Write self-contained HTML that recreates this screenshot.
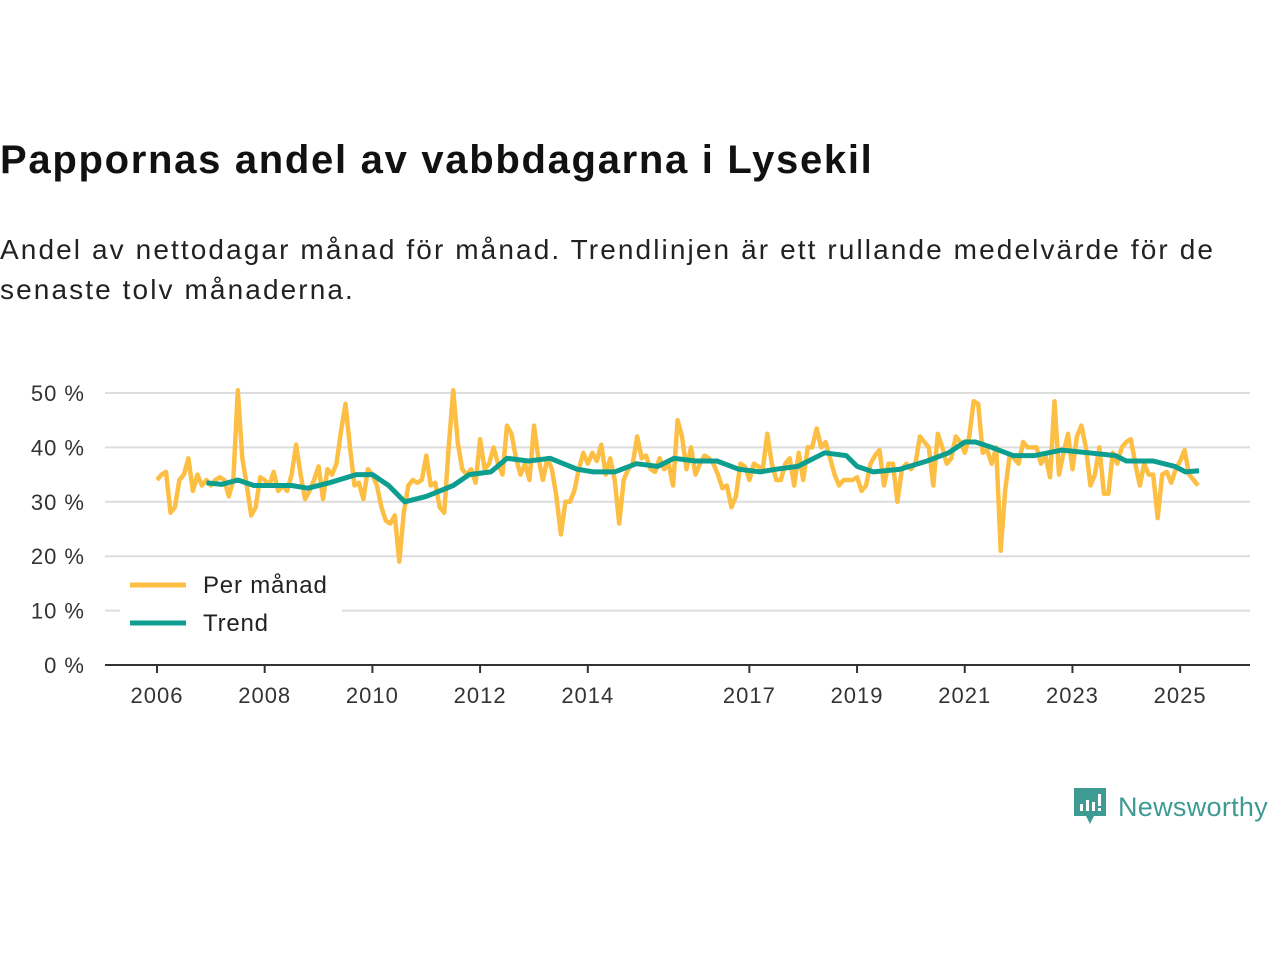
<!DOCTYPE html>
<html><head><meta charset="utf-8"><style>
body{margin:0;width:1280px;height:960px;background:#fff;font-family:"Liberation Sans","DejaVu Sans",sans-serif;overflow:hidden;position:relative}
h1{position:absolute;left:0;top:138px;margin:0;font-size:40px;font-weight:bold;color:#111;letter-spacing:1.7px;white-space:nowrap}
p{position:absolute;left:0;top:230px;margin:0;font-size:28px;line-height:40px;color:#222;width:1250px;letter-spacing:2.1px}
svg{position:absolute;left:0;top:0}
</style></head><body>
<h1>Pappornas andel av vabbdagarna i Lysekil</h1>
<p>Andel av nettodagar månad för månad. Trendlinjen är ett rullande medelvärde för de senaste tolv månaderna.</p>
<svg id="chart" width="1280" height="960"></svg>
<div style="position:absolute;left:1072px;top:786px;display:flex;align-items:center">
<svg width="36" height="42" style="position:static"><path d="M2 2h32v28H22l-4 8-4-8H2z" fill="#3d9b94"/><rect x="8" y="18" width="3" height="7" fill="#fff"/><rect x="14" y="14" width="3" height="11" fill="#fff"/><rect x="20" y="16" width="3" height="9" fill="#fff"/><rect x="26" y="8" width="3" height="12" fill="#fff"/><rect x="26" y="22" width="3" height="3" fill="#fff"/></svg>
<span style="font-size:27px;color:#3d9b94;margin-left:10px;letter-spacing:0.3px">Newsworthy</span></div>
<script>
const startYear=2006;
const monthly=[34,35,35.5,28,29,34,35,38,32,35,33,34,
33,34,34.5,34,31,34,50.5,38,33,27.5,29,34.5,
34,33,35.5,32,33,32,35,40.5,35,30.5,32,34,
36.5,30.5,36,35,37,43,48,40,33,33.5,30.5,36,
35,33,29,26.5,26,27.5,19,28,33,34,33.5,34,
38.5,33,33.5,29,28,40,50.5,41,36,35,36,33.5,
41.5,36,37,40,37,35,44,42.5,38,35,37,34,
44,38,34,38,36,31,24,30,30,32,36,39,
37,39,37.5,40.5,35,38,34,26,34,36,37,42,
38,38.5,36,35.5,38,36,37,33,45,42,36,40,
35,37,38.5,38,37,35,32.5,33,29,31,37,36.5,
34,37,36.5,36,42.5,37,34,34,37,38,33,39,
34,40,40,43.5,40,41,38,35,33,34,34,34,
34.5,32,33,37,38.5,39.5,33,37,37,30,36,37,
36,37,42,41,40,33,42.5,40,37,38,42,41,
39,42,48.5,48,39,39.5,37,40,21,32,38.5,38,
37,41,40,40,40,37,38.5,34.5,48.5,35,39,42.5,
36,42,44,40,33,35,40,31.5,31.5,39,37,40,
41,41.5,37,33,37,35,35,27,35,35.5,33.5,36,
37.5,39.5,35,34,33];
const trendYears=[2006.92,2007.2,2007.5,2007.8,2008.5,2008.8,2009.2,2009.7,2010.0,2010.3,2010.6,2011.0,2011.5,2011.8,2012.2,2012.5,2012.9,2013.3,2013.8,2014.1,2014.5,2014.9,2015.3,2015.6,2016.0,2016.4,2016.8,2017.2,2017.5,2017.9,2018.4,2018.8,2019.0,2019.3,2019.8,2020.3,2020.7,2021.0,2021.2,2021.5,2021.9,2022.3,2022.8,2023.3,2023.8,2024.0,2024.5,2024.9,2025.1,2025.35];
const trendValues=[33.5,33.2,34,33,33,32.5,33.5,35,35,33,30,31,33,35,35.5,38,37.5,38,36,35.5,35.5,37,36.5,38,37.5,37.5,36,35.5,36,36.5,39,38.5,36.5,35.5,36,37.5,39,41,41,40,38.5,38.5,39.5,39,38.5,37.5,37.5,36.5,35.5,35.7];
const yTicks=[0,10,20,30,40,50];
const xTicks=[2006,2008,2010,2012,2014,2017,2019,2021,2023,2025];
const NS="http://www.w3.org/2000/svg";
const svg=document.getElementById('chart');
const X=y=>157+(y-2006)*53.85;
const Y=v=>665-v*5.44;
function mk(t,a){const e=document.createElementNS(NS,t);for(const k in a)e.setAttribute(k,a[k]);svg.appendChild(e);return e;}
yTicks.forEach(v=>{
 if(v>0){const g=mk('line',{x1:105,x2:1250,y1:Y(v),y2:Y(v),stroke:'#ddd','stroke-width':2});
 
 }
 const t=mk('text',{x:85,y:Y(v)+8,'text-anchor':'end','font-size':22,fill:'#333','font-family':'Liberation Sans, sans-serif','letter-spacing':1});
 t.textContent=v+' %';
 
 
});
const ax=mk('line',{x1:105,x2:1250,y1:665,y2:665,stroke:'#333','stroke-width':2});


xTicks.forEach(yr=>{
 const tk=mk('line',{x1:X(yr),x2:X(yr),y1:665,y2:673,stroke:'#333','stroke-width':2});
 
 
 const t=mk('text',{x:X(yr),y:703,'text-anchor':'middle','font-size':22,fill:'#333','font-family':'Liberation Sans, sans-serif','letter-spacing':1});
 t.textContent=yr;
 
 
});
const mp=monthly.map((v,i)=>X(startYear+i/12).toFixed(1)+','+Y(v).toFixed(1)).join(' ');
const l1=mk('polyline',{points:mp,fill:'none',stroke:'#fdbe44','stroke-width':4.5,'stroke-linejoin':'round'});


const tp=trendYears.map((yr,i)=>X(yr).toFixed(1)+','+Y(trendValues[i]).toFixed(1)).join(' ');
const l2=mk('polyline',{points:tp,fill:'none',stroke:'#0d9e8f','stroke-width':5,'stroke-linejoin':'round'});


const lb=mk('rect',{x:120,y:565,width:222,height:80,fill:'#fff'});


[['Per månad','#fdbe44',585],['Trend','#0d9e8f',623]].forEach(([n,c,y])=>{
 const s=mk('line',{x1:130,x2:186,y1:y,y2:y,stroke:c,'stroke-width':5});
 
 
 const t=mk('text',{x:203,y:y+8,'font-size':24,fill:'#222','font-family':'Liberation Sans, sans-serif','letter-spacing':0.8});
 t.textContent=n;
 
 
});
</script>
</body></html>
